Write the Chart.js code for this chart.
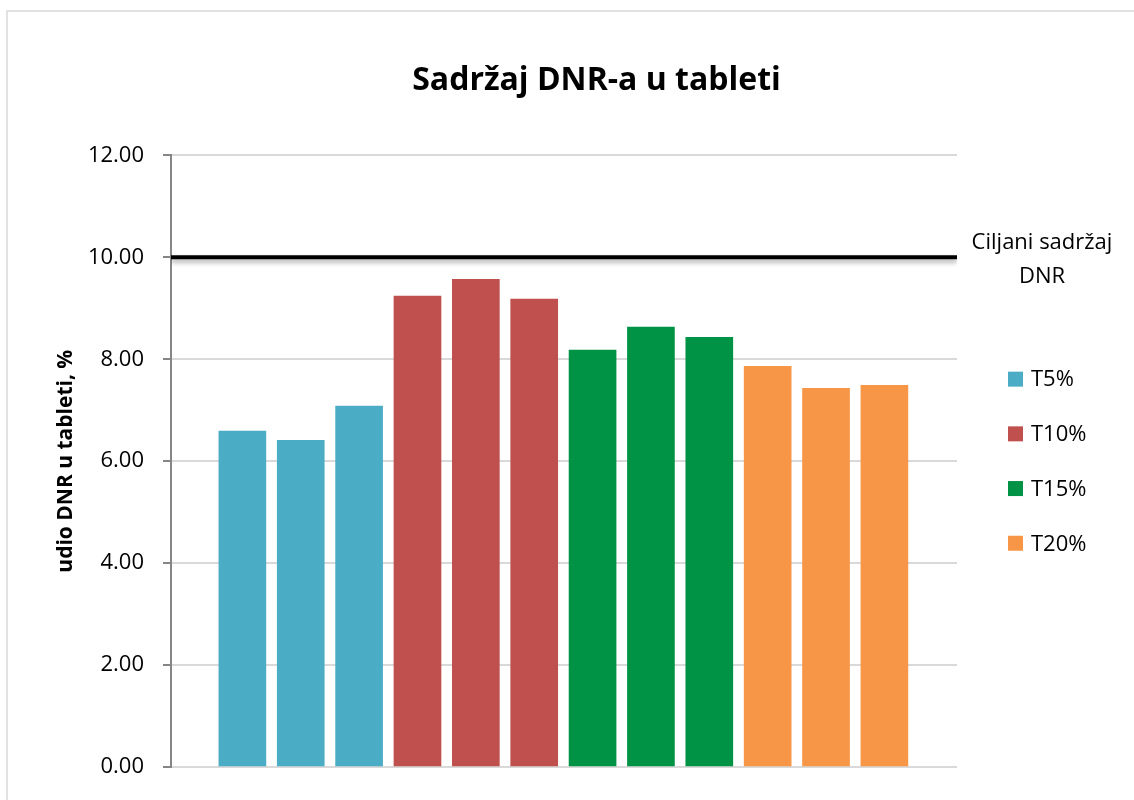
<!DOCTYPE html>
<html>
<head>
<meta charset="utf-8">
<script src="https://cdn.jsdelivr.net/npm/chart.js@4.4.1/dist/chart.umd.min.js"></script>
<style>
  html, body { margin: 0; padding: 0; background: #ffffff; }
  #wrap { width: 1134px; height: 800px; position: relative; }
</style>
</head>
<body>
<div id="wrap"><canvas id="chart" width="1134" height="800"></canvas></div>
<script>
// Measured DNR content per tablet (%), three tablets per formulation
const seriesNames = ['T5%', 'T10%', 'T15%', 'T20%'];
const valuesT5  = [6.59, 6.41, 7.08];
const valuesT10 = [9.24, 9.57, 9.18];
const valuesT15 = [8.18, 8.63, 8.43];
const valuesT20 = [7.86, 7.43, 7.49];
const seriesColors = ['#4BACC6', '#C0504D', '#009245', '#F79646'];
const targetValue = 10;
const targetLabel = ['Ciljani sadržaj', 'DNR'];
const yTicks = [0, 2, 4, 6, 8, 10, 12];

const chartTitle = 'Sadržaj DNR-a u tableti';
const yTitle = 'udio DNR u tableti, %';

// horizontal extent of the sample axis (bar slots 0..11)
const X_MIN = -1.223;
const X_MAX = 12.244;

const allSeries = [valuesT5, valuesT10, valuesT15, valuesT20];
let slot = 0;
const barDatasets = allSeries.map((vals, i) => {
  const pts = vals.map(v => ({ x: slot++, y: v }));
  return {
    type: 'bar',
    label: seriesNames[i],
    data: pts,
    backgroundColor: seriesColors[i],
    borderWidth: 0,
    barThickness: 47,
    grouped: false,
    order: 2
  };
});

const targetDataset = {
  type: 'line',
  label: targetLabel.join(' '),
  data: [{ x: X_MIN, y: targetValue }, { x: X_MAX, y: targetValue }],
  borderColor: '#000000',
  borderWidth: 4,
  pointRadius: 0,
  fill: false,
  order: 1,
  isTarget: true
};

const FONT = '"Open Sans", "Noto Sans", sans-serif';

// soft shadow under the target line, frame, legend and line label
const decorations = {
  id: 'decorations',
  beforeDraw(chart) {
    const ctx = chart.ctx;
    ctx.save();
    ctx.fillStyle = '#ffffff';
    ctx.fillRect(0, 0, chart.width, chart.height);
    ctx.strokeStyle = '#d9d9d9';
    ctx.lineWidth = 1.5;
    ctx.strokeRect(7, 11, chart.width + 10, chart.height + 10);
    ctx.restore();
  },
  beforeDatasetDraw(chart, args) {
    const ds = chart.data.datasets[args.index];
    if (ds.isTarget) {
      const ctx = chart.ctx;
      ctx.save();
      ctx.shadowColor = 'rgba(0,0,0,0.35)';
      ctx.shadowBlur = 5;
      ctx.shadowOffsetY = 3;
    }
  },
  afterDatasetDraw(chart, args) {
    const ds = chart.data.datasets[args.index];
    if (ds.isTarget) chart.ctx.restore();
  },
  afterDraw(chart) {
    const ctx = chart.ctx;
    const area = chart.chartArea;
    ctx.save();
    ctx.fillStyle = '#000000';
    ctx.font = '22px ' + FONT;
    ctx.textBaseline = 'middle';
    // legend of the bar series
    const bars = chart.data.datasets.filter(d => d.type === 'bar');
    const step = 54.7;
    const midY = (area.top + area.bottom) / 2;
    bars.forEach((d, i) => {
      const cy = midY + (i - (bars.length - 1) / 2) * step;
      const bx = area.right + 51;
      ctx.fillStyle = d.backgroundColor;
      ctx.fillRect(bx, cy - 7.5, 15, 15);
      ctx.fillStyle = '#000000';
      ctx.textAlign = 'left';
      ctx.fillText(d.label, bx + 23, cy + 1);
    });
    // label at the end of the target line
    const ty = chart.scales.y.getPixelForValue(targetValue);
    ctx.font = '22px ' + FONT;
    ctx.textAlign = 'center';
    ctx.fillText(targetLabel[0], area.right + 85, ty - 15);
    ctx.fillText(targetLabel[1], area.right + 85, ty + 19);
    ctx.restore();
  }
};

new Chart(document.getElementById('chart'), {
  data: { datasets: [...barDatasets, targetDataset] },
  options: {
    responsive: false,
    animation: false,
    layout: { padding: { left: 59, right: 0, top: 0, bottom: 33 } },
    plugins: {
      legend: { display: false },
      tooltip: { enabled: false },
      title: {
        display: true,
        text: chartTitle,
        color: '#000000',
        font: { family: FONT, size: 32, weight: 'bold', lineHeight: 1.2 },
        padding: { top: 62, bottom: 55 }
      }
    },
    scales: {
      x: {
        type: 'linear',
        min: X_MIN,
        max: X_MAX,
        offset: false,
        display: false
      },
      y: {
        position: 'left',
        min: 0,
        max: 12,
        afterBuildTicks(scale) { scale.ticks = yTicks.map(v => ({ value: v })); },
        afterFit(scale) { scale.width = 112; },
        ticks: {
          color: '#000000',
          font: { family: FONT, size: 22 },
          padding: 19,
          callback: v => Number(v).toFixed(2)
        },
        grid: {
          color: '#d9d9d9',
          lineWidth: 2,
          tickLength: 8,
          tickColor: '#868686',
          tickWidth: 2
        },
        border: { display: true, color: '#868686', width: 2 },
        title: {
          display: true,
          text: yTitle,
          color: '#000000',
          font: { family: FONT, size: 21, weight: 'bold', lineHeight: 0.7 },
          padding: { top: 0, bottom: 0 }
        }
      },
      yRight: {
        position: 'right',
        display: true,
        min: 0,
        max: 12,
        afterFit(scale) { scale.width = 177; },
        ticks: { display: false },
        grid: { display: false, drawTicks: false },
        border: { display: false }
      }
    }
  },
  plugins: [decorations]
});
</script>
</body>
</html>
